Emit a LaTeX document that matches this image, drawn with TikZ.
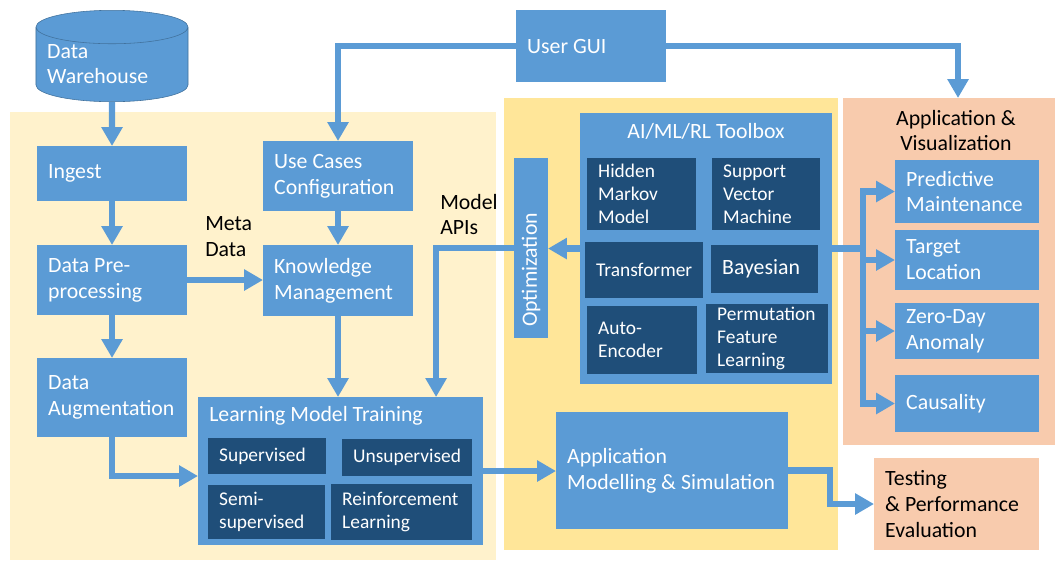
\documentclass[tikz,border=0pt]{standalone}
\usepackage{fontspec}
\setmainfont{Carlito}
\usepackage{tikz}
\usetikzlibrary{calc}
\usetikzlibrary{arrows.meta,shapes.geometric}
\hyphenpenalty=10000

\definecolor{boxblue}{HTML}{5B9BD5}
\definecolor{subblue}{HTML}{1F4E79}
\definecolor{cylline}{HTML}{41719C}
\definecolor{paleyellow}{HTML}{FFF2CC}
\definecolor{midyellow}{HTML}{FFE699}
\definecolor{peach}{HTML}{F8CBAD}

\tikzset{
	panel/.style={anchor=north west, inner sep=0pt, outer sep=0pt},
	blk/.style={fill=boxblue, text=white, anchor=north west, align=flush left, inner xsep=0.28cm, inner ysep=0pt, outer sep=0pt, font=\fontsize{15.5}{18.4}\selectfont},
	subblk/.style={blk, fill=subblue, font=\fontsize{13.8}{16.3}\selectfont},
	lbl/.style={text=black, align=flush left, inner sep=0pt, font=\fontsize{15.5}{18.4}\selectfont},
	cyl/.style={cylinder, shape border rotate=90, aspect=0.22, fill=boxblue, draw=cylline, thin, text=white, align=flush left, text width=3.24cm, inner xsep=0.28cm, inner ysep=0pt, minimum width=3.8cm, minimum height=2.2cm, anchor=shape center, font=\fontsize{15.5}{18.4}\selectfont},
	flow/.style={draw=boxblue, line width=4.6pt, -{Triangle[length=13.5pt,width=14.5pt]}},
	link/.style={draw=boxblue, line width=4.6pt}
}

\begin{document}
\begin{tikzpicture}[x=0.025cm,y=-0.025cm]
			\useasboundingbox (0,0) rectangle (1057,560);

			% background panels
			\node[panel, fill=paleyellow, minimum width=12.15cm, minimum height=11.2cm] (datapan) at (10,112) {};
			\node[panel, fill=midyellow, minimum width=8.35cm, minimum height=11.3cm] (mlpan) at (504,98) {};
			\node[panel, fill=peach, minimum width=5.3cm, minimum height=8.675cm] (vispan) at (843,98) {};

			% data path
			\node[cyl] (dw) at (112,56) {Data\\Warehouse\rule[-7pt]{0pt}{7pt}};
			\node[blk, text width=3.19cm, minimum height=1.375cm] (ingest) at (37,146) {Ingest};
			\node[blk, text width=3.19cm, minimum height=1.75cm] (preproc) at (37,245) {Data Pre-\\processing};
			\node[blk, text width=3.19cm, minimum height=1.975cm] (aug) at (37,358) {Data\\Augmentation};
			\node[blk, text width=3.19cm, minimum height=1.75cm] (uc) at (263,141) {Use Cases\\Configuration};
			\node[blk, text width=3.19cm, minimum height=1.775cm] (km) at (263,245) {Knowledge\\Management};

			\node[lbl, anchor=west] (meta) at (205,236.5) {Meta\\Data};
			\node[lbl, anchor=west] (apis) at (440,214.5) {Model\\APIs};

			% learning model training
			\node[blk, minimum width=7.125cm, minimum height=3.7cm] (lmt) at (198,397) {};
			\node[lbl, text=white, anchor=west] (lmtttl) at ($(lmt.north west)+(11,19)$) {Learning Model Training};
			\node[subblk, text width=2.39cm, minimum height=0.9cm] (sup) at (208,438) {Supervised};
			\node[subblk, text width=2.69cm, minimum height=0.925cm] (unsup) at (342,439) {Unsupervised};
			\node[subblk, text width=2.365cm, minimum height=1.35cm] (semi) at (208,485) {Semi-\\supervised};
			\node[subblk, text width=2.965cm, minimum height=1.4cm] (reinf) at (331,484) {Reinforcement\\Learning};

			% user gui
			\node[blk, text width=3.19cm, minimum height=1.8cm] (gui) at (516,10) {User GUI};

			% toolbox
			\node[blk, minimum width=6.3cm, minimum height=6.775cm] (tb) at (580,113) {};
			\node[lbl, text=white] (tbttl) at ($(tb.north)+(0,18)$) {AI/ML/RL Toolbox};
			\node[subblk, text width=2.165cm, minimum height=1.8cm] (hmm) at (587,158) {Hidden\\Markov\\Model};
			\node[subblk, text width=2.14cm, minimum height=1.8cm] (svm) at (712,158) {Support\\Vector\\Machine};
			\node[subblk, text width=2.39cm, minimum height=1.4cm] (trans) at (585,242) {Transformer};
			\node[subblk, text width=2.115cm, minimum height=1.2cm, font=\fontsize{15.5}{19}\selectfont] (bay) at (711,245) {Bayesian};
			\node[subblk, text width=2.19cm, minimum height=1.7cm] (ae) at (587,306) {Auto-\\Encoder};
			\node[subblk, text width=2.49cm, minimum height=1.725cm] (pfl) at (706,304) {Permutation\\Feature\\Learning};

			\node[blk, rotate=90, anchor=center, text width=3.94cm, minimum height=0.85cm] (opt) at (531,248) {Optimization};
			\node[blk, text width=5.24cm, minimum height=2.925cm] (ams) at (556,412) {Application\\\mbox{Modelling \& Simulation}};

			% application and visualization
			\node[lbl, align=center] (visttl) at (956,130.5) {Application \&\\Visualization};
			\node[blk, text width=3.04cm, minimum height=1.575cm] (pm) at (895,160) {Predictive\\Maintenance};
			\node[blk, text width=3.04cm, minimum height=1.5cm] (tl) at (895,230) {Target\\Location};
			\node[blk, text width=3.04cm, minimum height=1.4cm] (zd) at (895,303) {Zero-Day\\Anomaly};
			\node[blk, text width=3.04cm, minimum height=1.425cm] (ca) at (895,375) {Causality};
			\node[blk, fill=peach, text=black, text width=3.565cm, minimum height=2.3cm] (test) at (874,458) {Testing\\\& Performance\\Evaluation};

			\coordinate (split) at ($(tb.east)+(31,0)$);

			% connectors
			\draw[flow] (dw.south) -- (ingest.north);
			\draw[flow] (ingest) -- (preproc);
			\draw[flow] (preproc) -- (aug);
			\draw[flow] (aug.south) |- ($(lmt.west)+(0,5)$);
			\draw[flow] (preproc.east) -- (preproc.east -| km.west);
			\draw[flow] (gui.west) -| (uc.north);
			\draw[flow] (gui.east) -| ($(vispan.north)+(9,0)$);
			\draw[flow] (uc) -- (km);
			\draw[flow] (km.south) -- (km.south |- lmt.north);
			\draw[flow] (tb.west) -- (tb.west -| opt.south);
			\draw[flow] (opt.north) -| ($(lmt.north east)+(-47,0)$);
			\draw[flow] (lmt.east) -- (lmt.east -| ams.west);
			\draw[flow] (ams.east) -- ++(42,0) |- (test.west);
			\draw[link] (tb.east) -- (split);
			\draw[flow] (split) |- (pm.west);
			\draw[flow] (split) |- (tl.west);
			\draw[flow] (split) |- (zd.west);
			\draw[flow] (split) |- (ca.west);

		\end{tikzpicture}
\end{document}
